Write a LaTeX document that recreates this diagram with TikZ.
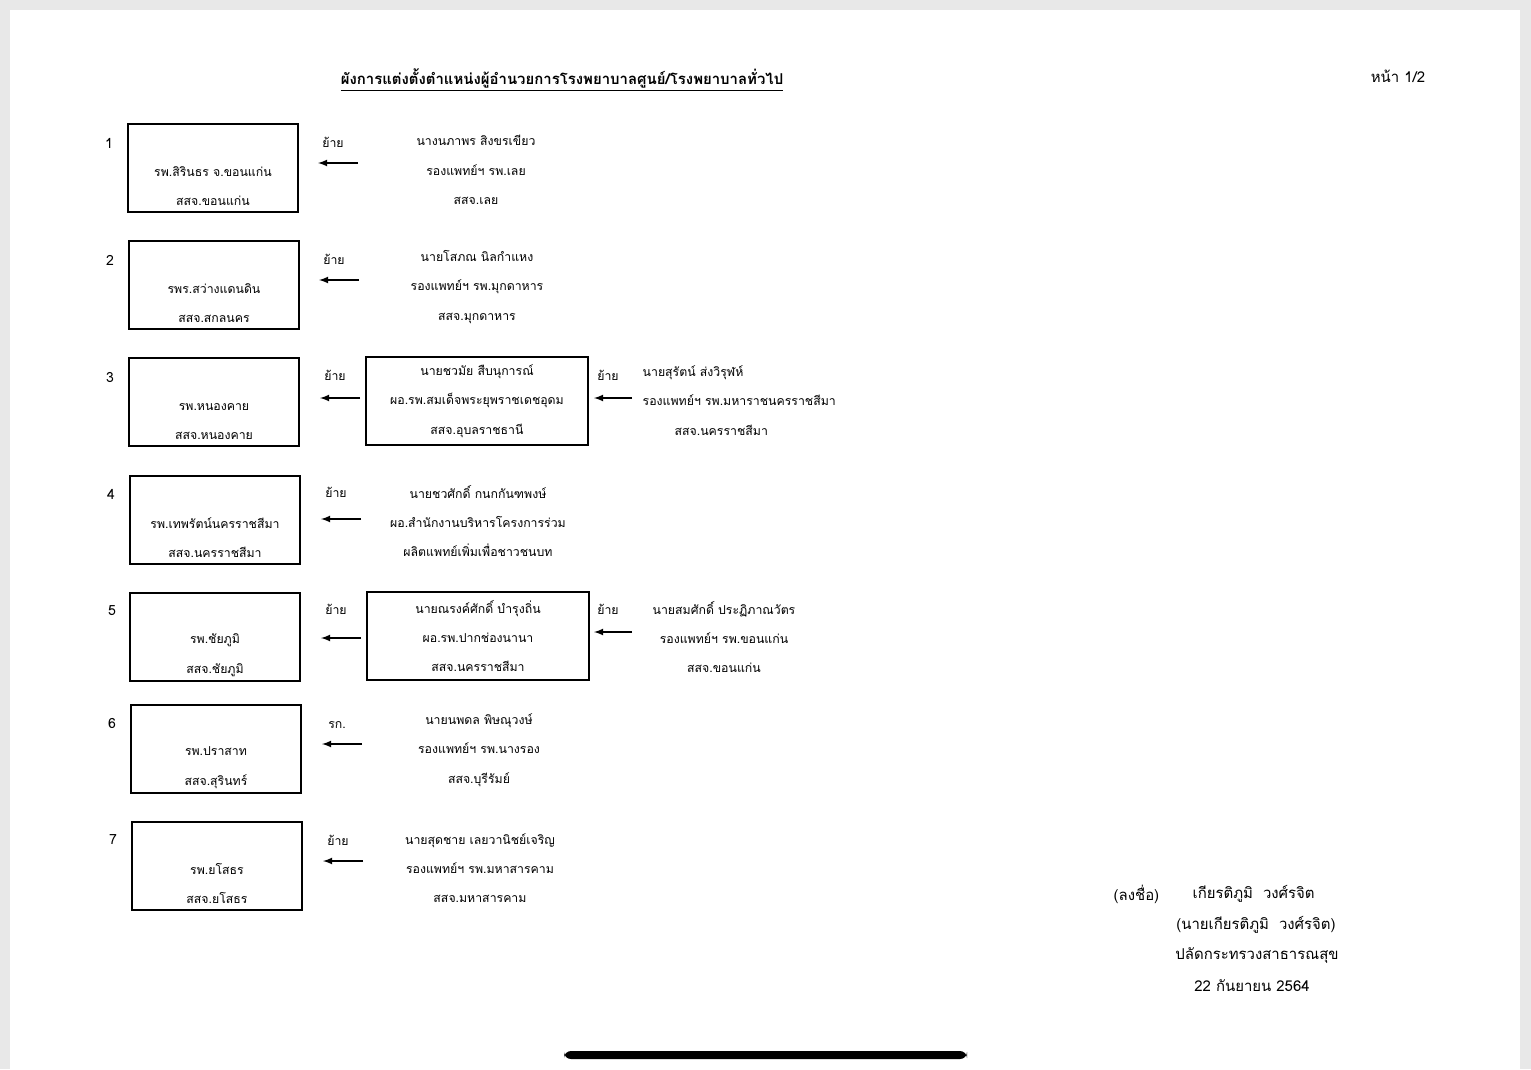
\documentclass[tikz,border=0pt]{standalone}
\usepackage{fontspec}
\newfontfamily\thaifont[Script=Thai]{Loma}
\usetikzlibrary{arrows,positioning}

\definecolor{pagegrey}{RGB}{232,232,232}
\newcommand{\blankline}{\phantom{รพ.}\\[5.5pt]}
\tikzset{
  hosp/.style={draw, line width=0.9pt, minimum width=3.4cm, minimum height=1.76cm, align=center, inner sep=0pt},
  cand/.style={align=center, inner sep=0pt},
  candbox/.style={cand, draw, line width=0.9pt, minimum width=4.44cm, minimum height=1.76cm},
  mv/.style={above=0.3cm, xshift=-0.1cm, inner sep=0pt},
  num/.style={font=\thaifont\fontsize{8}{10}\selectfont},
  sig/.style={font=\thaifont\fontsize{8.5}{10}\selectfont, inner sep=0pt}
}

\begin{document}
\begin{tikzpicture}[x=0.02cm, y=-0.02cm, >=latex, line width=0.8pt,
    font=\thaifont\fontsize{7}{16.7}\selectfont]
\useasboundingbox (0,0) rectangle (1531,1069);
\fill[pagegrey] (0,0) rectangle (1531,1069);
\fill[white] (10,10) rectangle (1520,1069);

% heading
\node[inner sep=0pt, font=\thaifont\bfseries\fontsize{8.5}{11}\selectfont] (title) at (562,80)
  {\underline{ผังการแต่งตั้งตำแหน่งผู้อำนวยการโรงพยาบาลศูนย์/โรงพยาบาลทั่วไป}};
\node[sig] (page) at (1398,76) {หน้า 1/2};

% 1
\node[num] (n_1) at (109,143) {1};
\node[hosp] (h_1) at (213,168) {\blankline รพ.สิรินธร จ.ขอนแก่น\\สสจ.ขอนแก่น};
\node[cand] (c_1) at (476,170) {นางนภาพร สิงขรเขียว\\รองแพทย์ฯ รพ.เลย\\สสจ.เลย};
\coordinate (a_1) at (358,163);
\coordinate (b_1) at (318,163);
\path[->] (a_1) edge node[mv] {ย้าย} (b_1);

% 2
\node[num] (n_2) at (110,260) {2};
\node[hosp] (h_2) at (214,285) {\blankline รพร.สว่างแดนดิน\\สสจ.สกลนคร};
\node[cand] (c_2) at (477,287) {นายโสภณ นิลกำแหง\\รองแพทย์ฯ รพ.มุกดาหาร\\สสจ.มุกดาหาร};
\coordinate (a_2) at (359,280);
\coordinate (b_2) at (319,280);
\path[->] (a_2) edge node[mv] {ย้าย} (b_2);

% 3
\node[num] (n_3) at (110,377) {3};
\node[hosp] (h_3) at (214,402) {\blankline รพ.หนองคาย\\สสจ.หนองคาย};
\node[candbox] (c_3) at (477,401) {นายชวมัย สืบนุการณ์\\ผอ.รพ.สมเด็จพระยุพราชเดชอุดม\\สสจ.อุบลราชธานี};
\coordinate (a_3) at (360,398);
\coordinate (b_3) at (320,398);
\path[->] (a_3) edge node[mv, above=0.34cm] {ย้าย} (b_3);
\node[cand, align=left, anchor=north west] (d_3) at (642,365)
  {นายสุรัตน์ ส่งวิรุฬห์\\รองแพทย์ฯ รพ.มหาราชนครราชสีมา\\\hspace*{0.64cm}สสจ.นครราชสีมา};
\coordinate (e_3) at (632,398);
\coordinate (f_3) at (594,398);
\path[->] (e_3) edge node[mv, above=0.34cm, xshift=0cm] {ย้าย} (f_3);

% 4
\node[num] (n_4) at (111,494) {4};
\node[hosp] (h_4) at (215,520) {\blankline รพ.เทพรัตน์นครราชสีมา\\สสจ.นครราชสีมา};
\node[cand] (c_4) at (478,521) {นายชวศักดิ์ กนกกันฑพงษ์\\ผอ.สำนักงานบริหารโครงการร่วม\\ผลิตแพทย์เพิ่มเพื่อชาวชนบท};
\coordinate (a_4) at (361,519);
\coordinate (b_4) at (321,519);
\path[->] (a_4) edge node[mv, above=0.42cm] {ย้าย} (b_4);

% 5
\node[num] (n_5) at (112,611) {5};
\node[hosp] (h_5) at (215,637) {\blankline รพ.ชัยภูมิ\\สสจ.ชัยภูมิ};
\node[candbox] (c_5) at (478,636) {นายณรงค์ศักดิ์ บำรุงถิ่น\\ผอ.รพ.ปากช่องนานา\\สสจ.นครราชสีมา};
\coordinate (a_5) at (361,638);
\coordinate (b_5) at (321,638);
\path[->] (a_5) edge node[mv, above=0.46cm] {ย้าย} (b_5);
\node[cand] (d_5) at (724,637) {นายสมศักดิ์ ประฏิภาณวัตร\\รองแพทย์ฯ รพ.ขอนแก่น\\สสจ.ขอนแก่น};
\coordinate (e_5) at (632,632);
\coordinate (f_5) at (594,632);
\path[->] (e_5) edge node[mv, above=0.34cm, xshift=0cm] {ย้าย} (f_5);

% 6
\node[num] (n_6) at (112,723) {6};
\node[hosp] (h_6) at (216,749) {\blankline รพ.ปราสาท\\สสจ.สุรินทร์};
\node[cand] (c_6) at (479,750) {นายนพดล พิษณุวงษ์\\รองแพทย์ฯ รพ.นางรอง\\สสจ.บุรีรัมย์};
\coordinate (a_6) at (362,744);
\coordinate (b_6) at (322,744);
\path[->] (a_6) edge node[mv] {รก.} (b_6);

% 7
\node[num] (n_7) at (113,840) {7};
\node[hosp] (h_7) at (217,866) {\blankline รพ.ยโสธร\\สสจ.ยโสธร};
\node[cand] (c_7) at (480,868) {นายสุดชาย เลยวานิชย์เจริญ\\รองแพทย์ฯ รพ.มหาสารคาม\\สสจ.มหาสารคาม};
\coordinate (a_7) at (363,861);
\coordinate (b_7) at (323,861);
\path[->] (a_7) edge node[mv] {ย้าย} (b_7);

% signature
\node[sig, anchor=west] (s_0) at (1113,894) {(ลงชื่อ)};
\node[sig, anchor=west] (s_1) at (1192,894) {เกียรติภูมิ\ \ วงศ์รจิต};
\node[sig] (s_2) at (1256,925) {(นายเกียรติภูมิ\ \ วงศ์รจิต)};
\node[sig] (s_3) at (1257,955) {ปลัดกระทรวงสาธารณสุข};
\node[sig] (s_4) at (1252,986) {22 กันยายน 2564};

\fill[black, rounded corners=4] (564,1051) rectangle (967,1059);
\end{tikzpicture}
\end{document}
